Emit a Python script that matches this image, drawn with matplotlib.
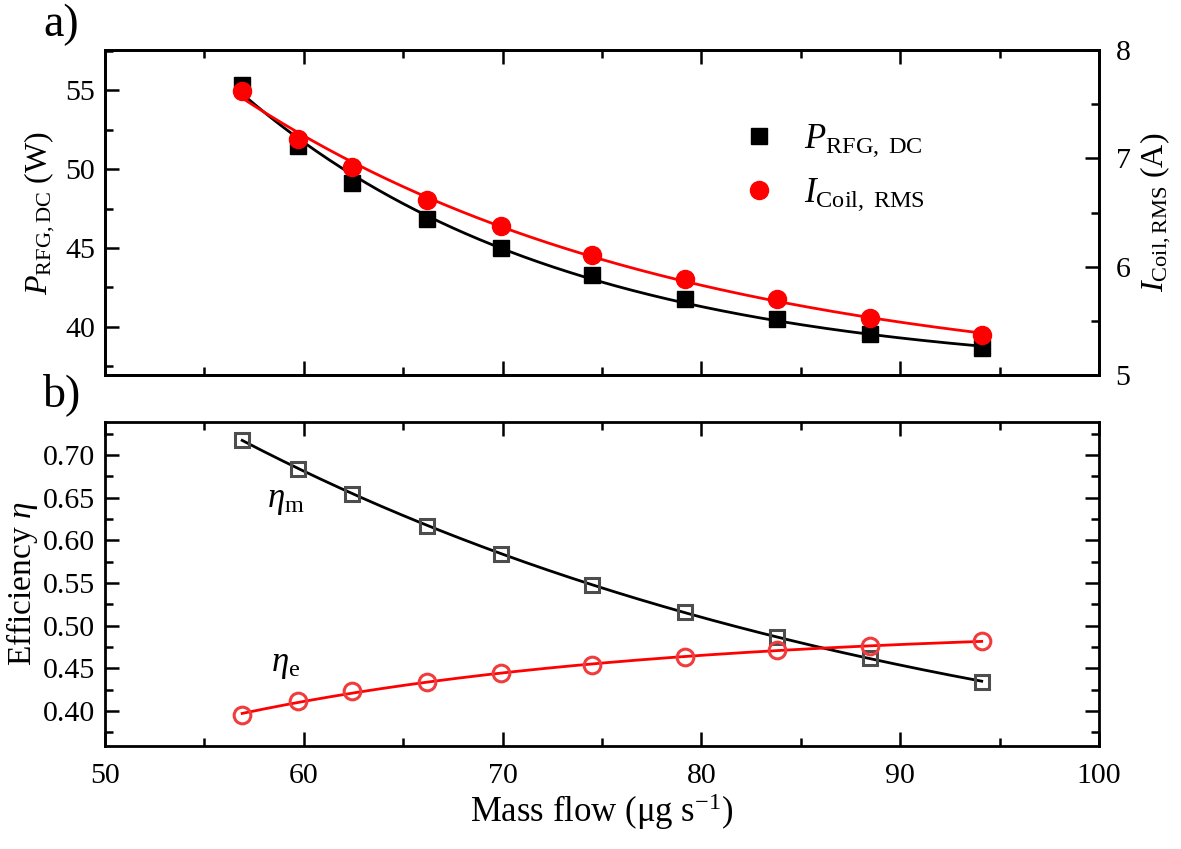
import numpy as np
import matplotlib
matplotlib.use("Agg")
import matplotlib.pyplot as plt
from matplotlib.ticker import MultipleLocator

plt.rcParams['font.family'] = ['Liberation Serif', 'DejaVu Serif']
plt.rcParams['mathtext.fontset'] = 'custom'
plt.rcParams['mathtext.rm'] = 'Liberation Serif'
plt.rcParams['mathtext.it'] = 'Liberation Serif:italic'
plt.rcParams['mathtext.bf'] = 'Liberation Serif:bold'

# Data
mass_flow = [56.9, 59.7, 62.4, 66.2, 69.9, 74.5, 79.2, 83.8, 88.5, 94.1]
p_rfg_dc = [55.32, 51.45, 49.15, 46.81, 44.97, 43.28, 41.76, 40.53, 39.58, 38.63]
i_coil_rms = [7.62, 7.18, 6.92, 6.62, 6.38, 6.11, 5.89, 5.70, 5.53, 5.37]
eta_m = [0.718, 0.684, 0.654, 0.617, 0.584, 0.548, 0.516, 0.487, 0.462, 0.434]
eta_e = [0.395, 0.412, 0.423, 0.434, 0.444, 0.454, 0.463, 0.471, 0.476, 0.482]

x = np.array(mass_flow)
xf = np.linspace(x.min(), x.max(), 300)


def fit_exp(yv, sign):
    """Fit y = y0 + sign*A*exp(b*x) by scanning y0 and log-linear least squares."""
    y = np.array(yv)
    if sign > 0:
        cands = np.linspace(y.min() - 3 * np.ptp(y), y.min() - 1e-3 * np.ptp(y), 600)
    else:
        cands = np.linspace(y.max() + 1e-3 * np.ptp(y), y.max() + 3 * np.ptp(y), 600)
    best = None
    for y0 in cands:
        z = sign * (y - y0)
        c = np.polyfit(x, np.log(z), 1)
        pred = y0 + sign * np.exp(np.polyval(c, x))
        sse = np.sum((pred - y) ** 2)
        if best is None or sse < best[0]:
            best = (sse, y0, c)
    _, y0, c = best
    return y0 + sign * np.exp(np.polyval(c, xf))


fig = plt.figure(figsize=(11.81, 8.49), dpi=100)
L, R = 105/1181, 1099/1181
ax1 = fig.add_axes([L, 1-375/849, R-L, (375-50)/849])
ax2 = fig.add_axes([L, 1-746/849, R-L, (746-422)/849])
ax1r = ax1.twinx()

FS = 21.5
LFS = 25
lw_spine = 2.0
for a in (ax1, ax2, ax1r):
    for s in a.spines.values():
        s.set_linewidth(lw_spine)


def style(a, left=True, right=True, top=True, bottom=True, labelbottom=True, labelleft=True, labelright=False):
    a.tick_params(which='both', direction='in', width=1.8, labelsize=FS,
                  left=left, right=right, top=top, bottom=bottom,
                  labelbottom=labelbottom, labelleft=labelleft, labelright=labelright, pad=7)
    a.tick_params(which='major', length=10)
    a.tick_params(which='minor', length=5.5)


# Top panel
ax1.plot(xf, fit_exp(p_rfg_dc, 1), color='black', lw=2, zorder=2)
ax1.plot(x, p_rfg_dc, 's', color='black', ms=11, zorder=3, label=r'$\mathit{P}_{\mathrm{RFG,\ DC}}$')
ax1r.plot(xf, fit_exp(i_coil_rms, 1), color='#ff0000', lw=2, zorder=2)
ax1r.plot(x, i_coil_rms, 'o', color='#ff0000', ms=13, zorder=3, label=r'$\mathit{I}_{\mathrm{Coil,\ RMS}}$')

ax1.set_xlim(50, 100)
ax1.set_ylim(36.95, 57.55)
ax1r.set_ylim(5, 8)
ax1.xaxis.set_major_locator(MultipleLocator(10))
ax1.xaxis.set_minor_locator(MultipleLocator(5))
ax1.yaxis.set_major_locator(MultipleLocator(5))
ax1.yaxis.set_minor_locator(MultipleLocator(2.5))
ax1r.yaxis.set_major_locator(MultipleLocator(1))
ax1r.yaxis.set_minor_locator(MultipleLocator(0.5))
style(ax1, right=False, labelbottom=False)
ax1r.tick_params(which='both', direction='in', width=1.8, labelsize=FS, right=True, left=False,
                 labelright=True, labelleft=False, pad=12)
ax1r.tick_params(which='major', length=10)
ax1r.tick_params(which='minor', length=5.5)
ax1.set_ylabel(r'$\mathit{P}_{\mathrm{RFG,DC}}$ (W)', fontsize=23, labelpad=6)
ax1r.set_ylabel(r'$\mathit{I}_{\mathrm{Coil,RMS}}$ (A)', fontsize=23, labelpad=6)

h1, l1 = ax1.get_legend_handles_labels()
h2, l2 = ax1r.get_legend_handles_labels()
ax1r.legend(h1 + h2, l1 + l2, loc='upper left', bbox_to_anchor=(0.607, 0.874), frameon=False,
            fontsize=LFS, handletextpad=0.75, labelspacing=0.5, handlelength=1.1)

# Bottom panel
ax2.plot(xf, fit_exp(eta_m, 1), color='black', lw=2, zorder=2)
ax2.plot(x, eta_m, 's', mfc='none', mec='#4d4d4d', mew=2.2, ms=10, zorder=3)
ax2.plot(xf, fit_exp(eta_e, -1), color='#ff0000', lw=2, zorder=2)
ax2.plot(x, eta_e, 'o', mfc='none', mec='#f03c3c', mew=2.2, ms=12, zorder=3)
ax2.set_xlim(50, 100)
ax2.set_ylim(0.359, 0.7385)
ax2.xaxis.set_major_locator(MultipleLocator(10))
ax2.xaxis.set_minor_locator(MultipleLocator(5))
ax2.yaxis.set_major_locator(MultipleLocator(0.05))
ax2.yaxis.set_minor_locator(MultipleLocator(0.025))
ax2.yaxis.set_major_formatter(matplotlib.ticker.FormatStrFormatter('%.2f'))
style(ax2)
ax2.tick_params(axis='x', pad=12)
ax2.set_ylabel(r'Efficiency $\mathit{\eta}$', fontsize=24, labelpad=2)
ax2.set_xlabel(r'Mass flow ($\mathrm{\mu}$g s$^{\mathrm{-1}}$)', fontsize=LFS, labelpad=2)

ax2.text(59.1, 0.647, r'$\mathit{\eta}_{\mathrm{m}}$', fontsize=LFS, ha='center', va='center')
ax2.text(59.1, 0.454, r'$\mathit{\eta}_{\mathrm{e}}$', fontsize=LFS, ha='center', va='center')

fig.text(43/1181, 1-25/849, 'a)', fontsize=33, va='center', ha='left')
fig.text(43/1181, 1-395/849, 'b)', fontsize=33, va='center', ha='left')

fig.savefig('out.png', dpi=100)
